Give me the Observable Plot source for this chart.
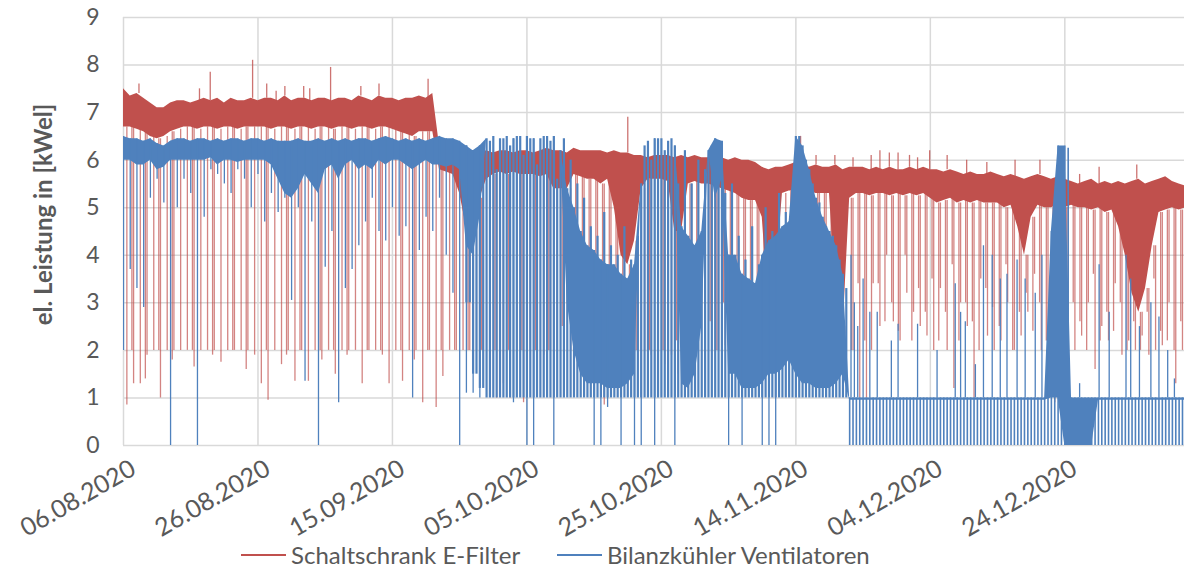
<!DOCTYPE html>
<html><head><meta charset="utf-8">
<script src="https://cdn.jsdelivr.net/npm/d3@7"></script>
<script src="https://cdn.jsdelivr.net/npm/@observablehq/plot@0.6"></script>
<style>
body{margin:0;background:#fff;font-family:Lato,sans-serif;}
#wrap{position:relative;width:1184px;height:571px;overflow:hidden;background:#fff}
#wrap svg{position:absolute;left:0;top:0}
.lg{position:absolute;top:541px;display:flex;align-items:center;font-family:Lato,sans-serif;font-size:24px;color:#595959;line-height:28px;white-space:nowrap}
.lg span.sw{display:inline-block;width:45px;height:2px;margin-right:5px}
</style></head><body><div id="wrap"></div>
<script>
// ---- tick labels ----
const xTickLabels = ["06.08.2020","26.08.2020","15.09.2020","05.10.2020","25.10.2020","14.11.2020","04.12.2020","24.12.2020"];
const yTicks = [0,1,2,3,4,5,6,7,8,9];
const seriesNames = ["Schaltschrank E-Filter","Bilanzkühler Ventilatoren"];
const yTitle = "el. Leistung in [kWel]";

// ---- daily values, day 0 = 06.08.2020 ----
// Schaltschrank E-Filter: upper / lower edge of dense band, daily dips
const rHi = [7.5,7.35,7.4,7.3,7.2,7.1,7.1,7.2,7.25,7.25,
7.2,7.25,7.3,7.25,7.3,7.2,7.3,7.25,7.25,7.3,
7.25,7.3,7.3,7.25,7.35,7.25,7.3,7.3,7.25,7.3,
7.3,7.25,7.3,7.3,7.25,7.35,7.3,7.25,7.35,7.3,
7.3,7.25,7.3,7.3,7.35,7.3,7.4,6.3,6.25,6.2,
6.2,6.15,6.2,6.15,6.2,6.15,6.2,6.2,6.15,6.2,
6.2,6.15,6.2,6.25,6.2,6.2,6.15,6.25,6.2,6.2,
6.2,6.2,6.15,6.2,6.15,6.15,6.1,6.1,6.05,6.1,
6.1,6.1,6.05,6.1,6.05,6.1,6.05,6.05,6.05,6.05,
6.0,6.05,6.0,6.0,5.95,5.85,5.8,5.85,5.85,5.9,
5.95,5.95,5.85,5.9,5.85,5.85,5.9,5.8,5.85,5.85,
5.85,5.8,5.85,5.8,5.85,5.8,5.8,5.85,5.8,5.85,
5.8,5.8,5.75,5.8,5.75,5.7,5.75,5.7,5.7,5.75,
5.7,5.65,5.7,5.65,5.6,5.65,5.7,5.65,5.6,5.65,
5.6,5.55,5.5,5.55,5.6,5.5,5.55,5.5,5.55,5.5,
5.55,5.6,5.5,5.55,5.6,5.65,5.55,5.5,5.45];
const rLo = [6.7,6.7,6.65,6.6,6.5,6.45,6.5,6.6,6.65,6.7,
6.7,6.65,6.7,6.7,6.65,6.7,6.7,6.65,6.7,6.7,
6.7,6.7,6.65,6.7,6.7,6.65,6.7,6.7,6.65,6.7,
6.7,6.65,6.7,6.7,6.65,6.7,6.7,6.65,6.7,6.7,
6.65,6.6,6.55,6.5,6.6,6.6,6.6,5.8,5.75,5.7,
5.3,4.6,4.8,5.2,5.6,5.7,5.75,5.7,5.75,5.7,
5.7,5.7,5.65,5.7,5.4,5.4,5.4,5.7,5.65,5.6,
5.6,5.5,5.6,5.0,4.0,3.8,4.3,5.4,5.6,5.6,
5.6,5.55,4.5,4.5,5.5,5.55,5.5,5.5,5.45,5.4,
5.35,5.3,5.2,5.15,5.15,4.8,2.8,3.5,5.3,5.35,
5.35,5.3,5.35,5.3,5.3,5.3,3.0,2.4,5.2,5.3,
5.3,5.25,5.3,5.3,5.25,5.3,5.25,5.3,5.25,5.3,
5.2,5.1,5.15,5.2,5.1,5.15,5.1,5.15,5.1,5.1,
5.1,5.0,5.05,4.6,4.0,4.8,5.05,5.0,5.0,5.05,
5.0,5.05,5.0,5.0,4.95,5.0,4.9,4.95,4.6,4.0,
3.2,2.8,3.3,4.2,4.9,4.95,5.0,4.95,5.0];
const rMin = [0.85,1.3,1.3,1.9,2.0,1.0,2.0,2.0,2.0,2.0,
1.65,2.0,2.0,2.0,1.75,2.0,2.0,2.0,2.0,1.9,
1.3,0.95,2.0,1.7,2.0,1.35,2.0,1.35,2.0,1.8,
2.0,1.5,2.0,2.0,2.0,1.3,2.0,2.0,1.9,1.3,
2.0,1.35,2.0,2.0,0.9,2.0,0.8,1.45,2.0,2.0,
2.0,2.0,2.0,2.0,2.0,1.0,1.3,1.0,2.0,0.9,
2.0,2.0,1.9,2.0,2.0,2.0,2.0,2.2,2.0,2.5,
2.0,0.85,2.2,2.4,2.1,3.0,2.5,2.0,1.9,2.0,
1.7,1.9,1.5,2.0,2.0,2.5,2.0,2.0,2.0,2.1,
2.0,2.0,2.0,2.0,2.2,2.0,2.0,1.1,2.0,2.0,
2.0,2.1,2.5,2.0,2.3,2.2,2.0,2.35,2.0,1.0,
1.0,3.4,2.5,4.0,2.6,2.2,3.2,2.8,2.5,2.3,
2.0,3.3,2.0,1.2,3.0,2.5,1.0,3.5,2.3,2.0,
2.2,3.0,2.0,2.3,2.8,3.6,2.0,1.5,0.9,0.9,
1.0,2.0,2.3,3.0,1.6,2.5,2.2,3.4,1.9,2.2,
2.0,2.3,1.9,2.0,2.1,3.0,1.3,2.0,2.0];
const rMin2 = [null,2.0,null,1.4,null,2.0,null,1.8,null,null,
2.0,null,null,1.9,null,null,2.0,null,1.6,null,
null,2.0,null,null,1.9,null,2.0,null,null,2.0,
null,2.0,null,1.9,null,null,2.0,null,2.0,null,
null,2.0,null,1.8,null,2.0,null,2.0,null,2.0,
null,2.0,null,2.0,null,2.0,null,2.0,null,2.0,
null,2.0,null,2.0,null,2.5,null,2.0,3.0,2.5,
2.3,2.0,3.0,2.6,2.2,3.5,2.0,null,2.0,null,
2.0,null,2.2,null,2.0,2.4,null,2.6,2.0,3.0,
2.0,2.7,2.5,2.2,3.0,2.0,2.0,2.5,null,2.0,
2.5,null,3.3,2.0,3.8,2.6,2.0,2.5,2.0,3.4,
2.2,2.0,3.4,2.6,3.0,2.4,4.0,2.2,3.3,2.8,
3.5,2.2,2.8,3.8,2.2,3.0,2.6,2.0,3.3,2.9,
2.5,3.8,2.0,2.8,3.2,2.4,3.0,2.2,1.5,1.8,
2.2,3.0,2.6,2.0,3.6,2.2,2.8,2.4,3.0,2.0,
2.6,2.0,2.8,3.5,2.4,2.2,2.0,2.6,2.2];
// single upward peaks of the E-Filter series
const rPeakDay = [2.3,11.3,12.9,19.2,21.3,22.7,24,26.8,27.7,30.8,35.3,38,45.3,75,100.7,103,105.8,108.5,111.2,112.5,113.9,115.2,116.9,118.1,119.9,122.5,125.4,128.4,132.6,136.3,142.2,145.1,150.7];
const rPeakVal = [7.6,7.5,7.85,8.1,7.6,7.45,7.55,7.55,7.5,7.95,7.55,7.6,7.7,6.9,6.5,6.1,6.1,6.05,6.1,6.2,6.15,6.15,6.1,6.05,6.2,6.1,6.0,5.95,6.0,6.0,5.7,5.85,5.9];

// Bilanzkühler Ventilatoren: daily top, dense band bottom, half-day tops, hatch floor, daily minimum
const bHi = [6.5,6.45,6.45,6.4,6.45,6.35,6.3,6.4,6.45,6.45,
6.4,6.45,6.45,6.4,6.45,6.4,6.45,6.45,6.4,6.45,
6.45,6.4,6.45,6.4,6.4,6.4,6.45,6.4,6.4,6.45,
6.4,6.45,6.4,6.45,6.4,6.45,6.45,6.4,6.45,6.5,
6.45,6.4,6.45,6.4,6.45,6.4,6.45,6.5,6.45,6.45,
6.4,6.3,6.2,6.3,6.45,6.5,6.45,6.5,6.45,6.5,
6.5,6.45,6.45,6.5,6.5,6.2,5.4,5.0,4.5,4.2,
4.1,3.9,3.8,3.8,3.6,3.5,3.8,5.5,6.4,6.45,
6.45,6.4,6.3,4.6,4.4,4.2,4.5,6.2,6.45,6.4,
4.0,4.0,3.6,3.5,3.4,4.0,4.3,4.4,4.6,4.7,
6.5,6.3,5.8,5.2,4.8,4.5,4.2,3.6,1.0,1.0,
1.0,1.0,1.0,1.0,1.0,1.0,1.0,1.0,1.0,1.0,
1.0,1.0,1.0,1.0,1.0,1.0,1.0,1.0,1.0,1.0,
1.0,1.0,1.0,1.0,1.0,1.0,1.0,1.0,4.5,6.3,
6.3,1.0,1.0,1.0,1.0,1.0,1.0,1.0,1.0,1.0,
1.0,1.0,1.0,1.0,1.0,1.0,1.0,1.0,1.0];
const bLo = [6.0,6.0,5.9,5.9,6.0,5.8,5.85,6.0,6.0,6.0,
6.0,6.0,6.0,6.05,5.9,6.0,6.0,5.95,6.0,6.0,
6.0,6.0,5.9,5.6,5.3,5.2,5.4,5.7,5.5,5.3,
5.8,5.9,5.6,5.9,6.0,5.8,5.9,5.8,6.0,5.9,
6.0,6.0,5.9,5.8,5.9,6.0,5.9,5.9,5.85,5.9,
5.8,4.2,4.0,4.8,6.45,6.5,6.45,6.5,6.45,6.5,
6.5,6.45,6.45,6.5,6.5,6.2,3.0,2.0,1.5,1.3,
1.3,1.3,1.2,1.2,1.2,1.3,1.5,5.5,6.4,6.45,
6.45,6.4,6.3,1.3,1.2,1.5,2.5,6.2,5.2,5.6,
1.5,1.5,1.2,1.2,1.2,1.3,1.5,1.5,1.6,1.8,
1.5,1.3,1.3,1.2,1.2,1.2,1.3,1.5,0.95,0.95,
0.95,0.95,0.95,0.95,0.95,0.95,0.95,0.95,0.95,0.95,
0.95,0.95,0.95,0.95,0.95,0.95,0.95,0.95,0.95,0.95,
0.95,0.95,0.95,0.95,0.95,0.95,0.95,0.95,1.0,1.0,
0,0,0,0,0,0.95,0.95,0.95,0.95,0.95,
0.95,0.95,0.95,0.95,0.95,0.95,0.95,0.95,0.95];
const bHi2 = [null,null,null,null,null,null,null,null,null,null,
null,null,null,null,null,null,null,null,null,null,
null,null,null,null,null,null,null,null,null,null,
null,null,null,null,null,null,null,null,null,null,
null,null,null,null,null,null,null,null,null,null,
6.3,5.2,5.6,6.0,6.4,5.8,6.45,6.3,6.5,6.1,
6.45,5.9,6.5,6.4,5.6,6.45,6.0,5.5,5.2,4.6,
4.4,4.9,4.2,4.0,4.6,3.9,4.4,6.3,6.0,6.45,
6.2,6.45,5.5,6.2,5.5,6.0,5.8,6.3,6.0,5.3,
5.5,4.4,3.9,4.6,3.8,5.0,4.5,5.3,4.9,5.4,
6.5,6.0,5.5,5.1,4.6,4.4,3.9,3.3,1.0,1.0,
1.0,1.0,1.0,1.0,1.0,1.0,1.0,1.0,1.0,1.0,
1.0,1.0,1.0,1.0,1.0,1.0,1.0,1.0,1.0,1.0,
1.0,1.0,1.0,1.0,1.0,1.0,1.0,1.0,3.8,6.2,
6.25,1.0,1.0,1.0,1.0,1.0,1.0,1.0,1.0,1.0,
1.0,1.0,1.0,1.0,1.0,1.0,1.0,1.0,1.0];
const bFloor = [null,null,null,null,null,null,null,null,null,null,
null,null,null,null,null,null,null,null,null,null,
null,null,null,null,null,null,null,null,null,null,
null,null,null,null,null,null,null,null,null,null,
null,null,null,null,null,null,null,null,null,null,
null,3.0,1.5,1.2,1.0,1.0,1.0,1.0,1.0,1.0,
1.0,1.0,1.0,1.0,1.0,1.0,1.0,1.0,1.0,1.0,
1.0,1.0,1.0,1.0,1.0,1.0,1.0,1.0,1.0,1.0,
1.0,1.0,1.0,1.0,1.0,1.0,1.0,1.0,1.0,1.0,
1.0,1.0,1.0,1.0,1.0,1.0,1.0,1.0,1.0,1.0,
1.0,1.0,1.0,1.0,1.0,1.0,1.0,1.0,0,0,
0,0,0,0,0,0,0,0,0,0,
0,0,0,0,0,0,0,0,0,0,
0,0,0,0,0,0,0,0,0,0,
0,0,0,0,0,0,0,0,0,0,
0,0,0,0,0,0,0,0,0];
const bMin = [2.0,3.7,3.3,2.9,5.2,5.6,5.1,0,5.0,5.6,
5.3,0,4.8,5.8,5.7,5.5,5.3,5.8,5.6,5.0,
5.7,4.7,5.3,4.9,5.2,3.05,5.0,1.35,4.7,0,
3.75,4.5,0.9,3.3,3.7,4.2,4.7,5.2,4.5,4.3,
5.0,4.4,4.6,1.0,4.1,4.8,4.5,5.2,4.0,3.2,
0,1.1,1.1,1.0,1.0,1.1,1.0,1.0,0.9,1.0,
0,0,1.0,1.0,0,1.0,1.0,1.0,1.0,1.0,
0,0,0.8,1.0,0,1.0,0,0,1.0,0,
1.0,1.0,0,1.0,1.0,1.0,1.0,1.0,1.0,1.0,
0,1.0,0,1.0,1.0,0,0,0,1.0,1.0,
1.0,1.0,1.0,1.0,1.0,1.0,1.0,1.0,0,0,
0,0,0,0,0,0,0,0,0,0,
0,0,0,0,0,0,0,0,0,0,
0,0,0,0,0,0,0,0,0,0,
0,0,0,0,0,0,0,0,0,0,
0,0,0,0,0,0,0,0,0];
// single upward peaks of the Ventilatoren series above the 1 kW level
const bPeakDay = [108.2,108.7,109.2,110,111,112.1,114.2,115.2,118.1,121,123.7,124.5,125.2,126.7,127.9,129.2,130.4,131.4,132.9,134.1,135.6,136.6,137.3,142.2,145.1,146.6,149.1,149.8,151.1,152.8,154,155.3,156.3];
const bPeakVal = [4.0,3.0,2.5,3.5,2.8,2.8,2.2,2.55,2.55,2.0,3.4,2.8,2.6,1.7,4.2,4.0,3.5,3.6,3.9,3.5,3.2,4.0,2.0,1.3,3.8,2.8,4.0,3.5,2.5,3.0,2.7,2.0,1.4];

// ---- build ----
const RED = "#C0504D", BLUE = "#4F81BD", GRID = "#D9D9D9", TXT = "#595959";
const parse = d3.utcParse("%d.%m.%Y");
const fmt = d3.utcFormat("%d.%m.%Y");
const t0 = parse(xTickLabels[0]).getTime();
const at = d => new Date(t0 + d * 86400000);
const xTicks = xTickLabels.map(parse);
const xEnd = at(157.8);

const rows = rHi.map((v, i) => ({i, date: at(i), q: at(i + 0.25), half: at(i + 0.5),
  rHi: v, rLo: rLo[i], rMin: rMin[i], rMin2: rMin2[i],
  bHi: bHi[i], bLo: bLo[i], bHi2: bHi2[i], bFloor: bFloor[i], bMin: bMin[i]}));
const rPeaks = rPeakDay.map((d, k) => ({date: at(d), base: rHi[Math.round(d)], v: rPeakVal[k]}));
const bPeaks = bPeakDay.map((d, k) => ({date: at(d), base: bHi[Math.round(d)], v: bPeakVal[k]}));
const hatchHigh = rows.filter(r => r.bFloor != null && r.bFloor >= 1);
const hatchLow = rows.filter(r => r.bFloor === 0);

const chart = Plot.plot({
  width: 1184, height: 571,
  marginLeft: 123, marginRight: 0, marginTop: 17, marginBottom: 126,
  style: {fontFamily: "Lato, sans-serif", fontSize: "23px", color: TXT, background: "white"},
  x: {type: "utc", domain: [at(0), xEnd], axis: null},
  y: {domain: [0, 9], ticks: yTicks, tickSize: 0, tickPadding: 24, label: null},
  marks: [
    Plot.ruleY(yTicks, {stroke: GRID, strokeWidth: 1.5}),
    Plot.ruleX(xTicks, {stroke: GRID, strokeWidth: 1.5}),
    // E-Filter
    Plot.ruleX(rows.filter(r => r.rMin < r.rLo), {x: "half", y1: "rMin", y2: "rLo", stroke: RED, strokeWidth: 1.3, strokeOpacity: 0.7, clip: true}),
    Plot.ruleX(rows.filter(r => r.rMin2 != null), {x: "q", y1: "rMin2", y2: "rLo", stroke: RED, strokeWidth: 1.3, strokeOpacity: 0.7, clip: true}),
    Plot.areaY(rows, {x: "date", y1: "rLo", y2: "rHi", fill: RED, clip: true}),
    Plot.ruleX(rPeaks, {x: "date", y1: "base", y2: "v", stroke: RED, strokeWidth: 1.3, strokeOpacity: 0.8}),
    // Ventilatoren
    Plot.ruleX(hatchHigh.filter(r => r.bFloor < r.bHi), {x: "date", y1: "bFloor", y2: "bHi", stroke: BLUE, strokeWidth: 2.2, clip: true}),
    Plot.ruleX(hatchHigh.filter(r => r.bHi2 != null), {x: "half", y1: "bFloor", y2: "bHi2", stroke: BLUE, strokeWidth: 2.2, clip: true}),
    Plot.ruleX(hatchLow, {x: "date", y1: "bFloor", y2: "bHi", stroke: BLUE, strokeWidth: 1.6, clip: true}),
    Plot.ruleX(hatchLow.filter(r => r.bHi2 != null), {x: "half", y1: "bFloor", y2: "bHi2", stroke: BLUE, strokeWidth: 1.6, clip: true}),
    Plot.areaY(rows, {x: "date", y1: "bLo", y2: "bHi", fill: BLUE, clip: true}),
    Plot.ruleX(rows.filter(r => r.bMin < Math.min(r.bLo, r.bFloor ?? r.bLo)), {x: "date", y1: "bMin", y2: "bHi", stroke: BLUE, strokeWidth: 1.3, clip: true}),
    Plot.ruleX(bPeaks, {x: "date", y1: "base", y2: "v", stroke: BLUE, strokeWidth: 1.3}),
    // x tick labels
    Plot.text(xTicks, {x: d => d, frameAnchor: "bottom", text: d => fmt(d), rotate: -30, textAnchor: "end", lineAnchor: "middle", dx: 10, dy: 21, fill: TXT, fontSize: 25}),
    // y title
    Plot.text([yTitle], {frameAnchor: "left", rotate: -90, textAnchor: "middle", lineAnchor: "middle", dx: -79, dy: -17, fontWeight: "bold", fontSize: 24, fill: TXT})
  ]
});

const wrap = document.getElementById("wrap");
wrap.appendChild(chart);
const colors = [RED, BLUE];
const lefts = [241, 557];
seriesNames.forEach((name, k) => {
  const d = document.createElement("div");
  d.className = "lg";
  d.style.left = lefts[k] + "px";
  d.innerHTML = `<span class="sw" style="background:${colors[k]}"></span><span>${name}</span>`;
  wrap.appendChild(d);
});
</script></body></html>
